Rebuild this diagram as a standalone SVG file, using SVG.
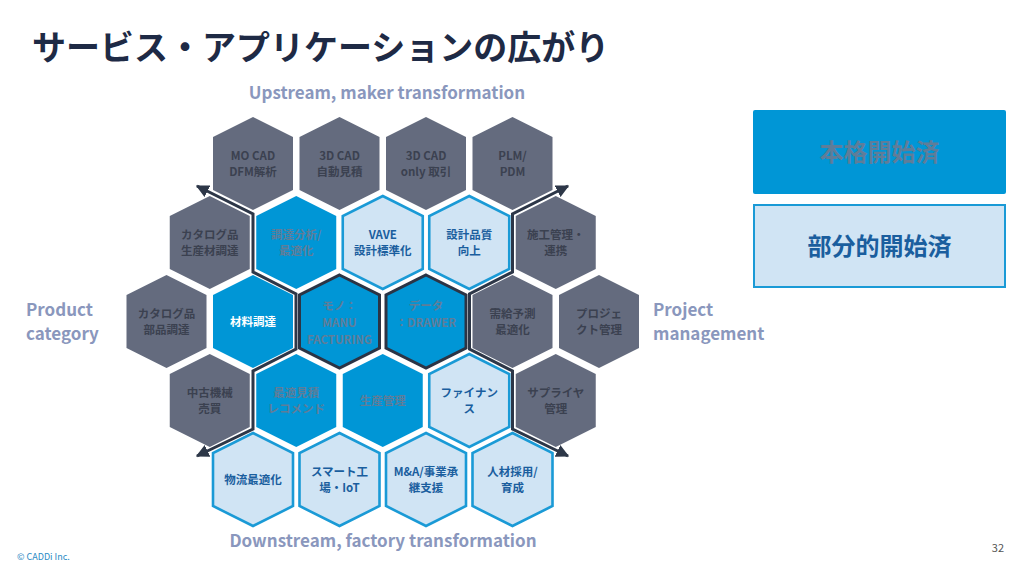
<svg xmlns="http://www.w3.org/2000/svg" xmlns:xlink="http://www.w3.org/1999/xlink" width="1024" height="576" viewBox="0 0 1024 576">
<style>
text{font-family:"Noto Sans CJK JP","Noto Sans",sans-serif;font-weight:700;}
.gray{fill:#646b7e;}
.blue{fill:#0096d6;}
.lite{fill:#d0e4f4;stroke:#1a9ad6;stroke-width:2.6;}
.core{fill:#0096d6;stroke:#2b3445;stroke-width:3;}
.tg{fill:#3b4150;font-size:11.5px;text-anchor:middle;}
.tb{fill:#5f7d99;font-size:11.5px;text-anchor:middle;}
.tw{fill:#ffffff;font-size:11.5px;text-anchor:middle;}
.tl{fill:#1a5e9e;font-size:11.5px;text-anchor:middle;}
.axis{fill:#8a97bd;font-size:17px;}
.conn{fill:none;stroke:#2d3748;stroke-width:3;stroke-linejoin:miter;}
</style>
<defs>
<path id="hex" d="M0,-46.5 L40,-26.5 L40,26.5 L0,46.5 L-40,26.5 L-40,-26.5 Z"/>
<marker id="arr" viewBox="0 0 10 10" refX="9" refY="5" markerWidth="13" markerHeight="13" markerUnits="userSpaceOnUse" orient="auto-start-reverse">
<path d="M0,0 L10,5 L0,10 Z" fill="#2d3748"/>
</marker>
</defs>
<rect width="1024" height="576" fill="#ffffff"/>
<text x="32" y="60" style="font-size:34px;fill:#1e2a45;">サービス・アプリケーションの広がり</text>
<text x="387" y="99" class="axis" text-anchor="middle">Upstream, maker transformation</text>
<text x="383" y="547" class="axis" text-anchor="middle">Downstream, factory transformation</text>
<text x="26" y="316" class="axis">Product</text>
<text x="26" y="340" class="axis">category</text>
<text x="653" y="316" class="axis">Project</text>
<text x="653" y="340" class="axis">management</text>

<!-- Row 1 -->
<g id="n-mocad" transform="translate(253,163.5)"><use xlink:href="#hex" class="gray"/><text class="tg" y="-3.5">MO CAD</text><text class="tg" y="12.5">DFM解析</text></g>
<g id="n-3dcad-est" transform="translate(339.5,163.5)"><use xlink:href="#hex" class="gray"/><text class="tg" y="-3.5">3D CAD</text><text class="tg" y="12.5">自動見積</text></g>
<g id="n-3dcad-only" transform="translate(426,163.5)"><use xlink:href="#hex" class="gray"/><text class="tg" y="-3.5">3D CAD</text><text class="tg" y="12.5">only 取引</text></g>
<g id="n-plm" transform="translate(512.5,163.5)"><use xlink:href="#hex" class="gray"/><text class="tg" y="-3.5">PLM/</text><text class="tg" y="12.5">PDM</text></g>
<!-- Row 2 -->
<g id="n-catalog-prod" transform="translate(209.75,242.5)"><use xlink:href="#hex" class="gray"/><text class="tg" y="-3.5">カタログ品</text><text class="tg" y="12.5">生産材調達</text></g>
<g id="n-proc-analysis" transform="translate(296.25,242.5)"><use xlink:href="#hex" class="blue"/><text class="tb" y="-3.5">調達分析/</text><text class="tb" y="12.5">最適化</text></g>
<g id="n-vave" transform="translate(382.75,242.5)"><use xlink:href="#hex" class="lite"/><text class="tl" y="-3.5">VAVE</text><text class="tl" y="12.5">設計標準化</text></g>
<g id="n-design-quality" transform="translate(469.25,242.5)"><use xlink:href="#hex" class="lite"/><text class="tl" y="-3.5">設計品質</text><text class="tl" y="12.5">向上</text></g>
<g id="n-construction" transform="translate(555.75,242.5)"><use xlink:href="#hex" class="gray"/><text class="tg" y="-3.5">施工管理・</text><text class="tg" y="12.5">連携</text></g>
<!-- Row 3 -->
<g id="n-catalog-parts" transform="translate(166.5,321.5)"><use xlink:href="#hex" class="gray"/><text class="tg" y="-3.5">カタログ品</text><text class="tg" y="12.5">部品調達</text></g>
<g id="n-material" transform="translate(253,321.5)"><use xlink:href="#hex" class="blue"/><text class="tw" y="4">材料調達</text></g>
<g id="n-mono" transform="translate(339.5,321.5)"><use xlink:href="#hex" class="core"/><text class="tb" y="-12">モノ：</text><text class="tb" y="5">MANU</text><text class="tb" y="22">FACTURING</text></g>
<g id="n-data" transform="translate(426,321.5)"><use xlink:href="#hex" class="core"/><text class="tb" y="-12">データ</text><text class="tb" y="5">：DRAWER</text></g>
<g id="n-demand" transform="translate(512.5,321.5)"><use xlink:href="#hex" class="gray"/><text class="tg" y="-3.5">需給予測</text><text class="tg" y="12.5">最適化</text></g>
<g id="n-project" transform="translate(599,321.5)"><use xlink:href="#hex" class="gray"/><text class="tg" y="-3.5">プロジェ</text><text class="tg" y="12.5">クト管理</text></g>
<!-- Row 4 -->
<g id="n-used" transform="translate(209.75,400.5)"><use xlink:href="#hex" class="gray"/><text class="tg" y="-3.5">中古機械</text><text class="tg" y="12.5">売買</text></g>
<g id="n-quote" transform="translate(296.25,400.5)"><use xlink:href="#hex" class="blue"/><text class="tb" y="-3.5">最適見積</text><text class="tb" y="12.5">レコメンド</text></g>
<g id="n-production" transform="translate(382.75,400.5)"><use xlink:href="#hex" class="blue"/><text class="tb" y="4">生産管理</text></g>
<g id="n-finance" transform="translate(469.25,400.5)"><use xlink:href="#hex" class="lite"/><text class="tl" y="-3.5">ファイナン</text><text class="tl" y="12.5">ス</text></g>
<g id="n-supplier" transform="translate(555.75,400.5)"><use xlink:href="#hex" class="gray"/><text class="tg" y="-3.5">サプライヤ</text><text class="tg" y="12.5">管理</text></g>
<!-- Row 5 -->
<g id="n-logistics" transform="translate(253,479.5)"><use xlink:href="#hex" class="lite"/><text class="tl" y="4">物流最適化</text></g>
<g id="n-smart" transform="translate(339.5,479.5)"><use xlink:href="#hex" class="lite"/><text class="tl" y="-3.5">スマート工</text><text class="tl" y="12.5">場・IoT</text></g>
<g id="n-ma" transform="translate(426,479.5)"><use xlink:href="#hex" class="lite"/><text class="tl" y="-3.5">M&amp;A/事業承</text><text class="tl" y="12.5">継支援</text></g>
<g id="n-hr" transform="translate(512.5,479.5)"><use xlink:href="#hex" class="lite"/><text class="tl" y="-3.5">人材採用/</text><text class="tl" y="12.5">育成</text></g>

<g id="connectors">
<path class="conn" marker-start="url(#arr)" marker-end="url(#arr)" d="M197,186 L253,214 L253,272 L296,294 L296,349 L253,371 L253,429 L197,456"/>
<path class="conn" marker-start="url(#arr)" marker-end="url(#arr)" d="M568,186 L512.5,214 L512.5,272 L469.5,294 L469.5,349 L512.5,371 L512.5,429 L568,456"/>
</g>

<g id="legend-full">
<rect x="753" y="110" width="253" height="84" rx="2" fill="#0096d6"/>
<text x="879.5" y="161" text-anchor="middle" style="font-size:24px;fill:#5f7d99;">本格開始済</text>
</g>
<g id="legend-partial">
<rect x="754" y="205" width="251" height="82" fill="#d0e4f4" stroke="#1a9ad6" stroke-width="2"/>
<text x="879.5" y="255" text-anchor="middle" style="font-size:24px;fill:#1a5e9e;">部分的開始済</text>
</g>
<text x="17" y="560" style="font-size:9px;font-weight:400;fill:#2a8ac4;">© CADDi Inc.</text>
<text x="1004" y="552" text-anchor="end" style="font-size:11px;font-weight:400;fill:#555555;">32</text>
</svg>
